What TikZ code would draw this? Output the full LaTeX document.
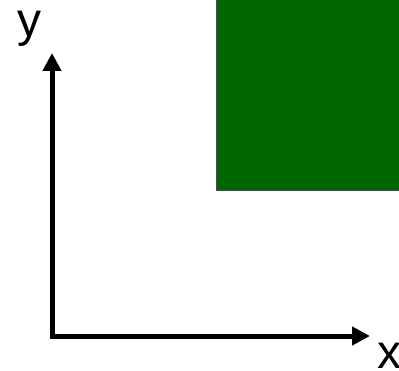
\documentclass[tikz,border=0pt]{standalone}
\usepackage{fontspec}
\setmainfont{Liberation Sans}
\usetikzlibrary{arrows.meta}
\definecolor{boxgreen}{RGB}{0,102,0}
\tikzset{
  axis/.style={line width=5pt, -{Triangle[length=18pt,width=18pt]}},
  axlabel/.style={font=\fontsize{48}{48}\selectfont, inner sep=0pt, anchor=base},
  greenbox/.style={fill=boxgreen, draw=black!70, line width=1pt}
}
\begin{document}
\begin{tikzpicture}[x=1pt,y=1pt]
\useasboundingbox (0,0) rectangle (399,370);
\fill[white] (0,0) rectangle (399,370);
\draw[greenbox] (216,179) rectangle (402,372);
\coordinate (O) at (52,34);
\coordinate (Y) at (52,317);
\coordinate (X) at (370,34);
\draw[axis] ([yshift=-2.5pt]O) -- (Y);
\draw[axis] ([xshift=-2.5pt]O) -- (X);
\node[axlabel] (ylab) at (29.5,333) {y};
\node[axlabel] (xlab) at (389,2) {x};
\end{tikzpicture}
\end{document}
